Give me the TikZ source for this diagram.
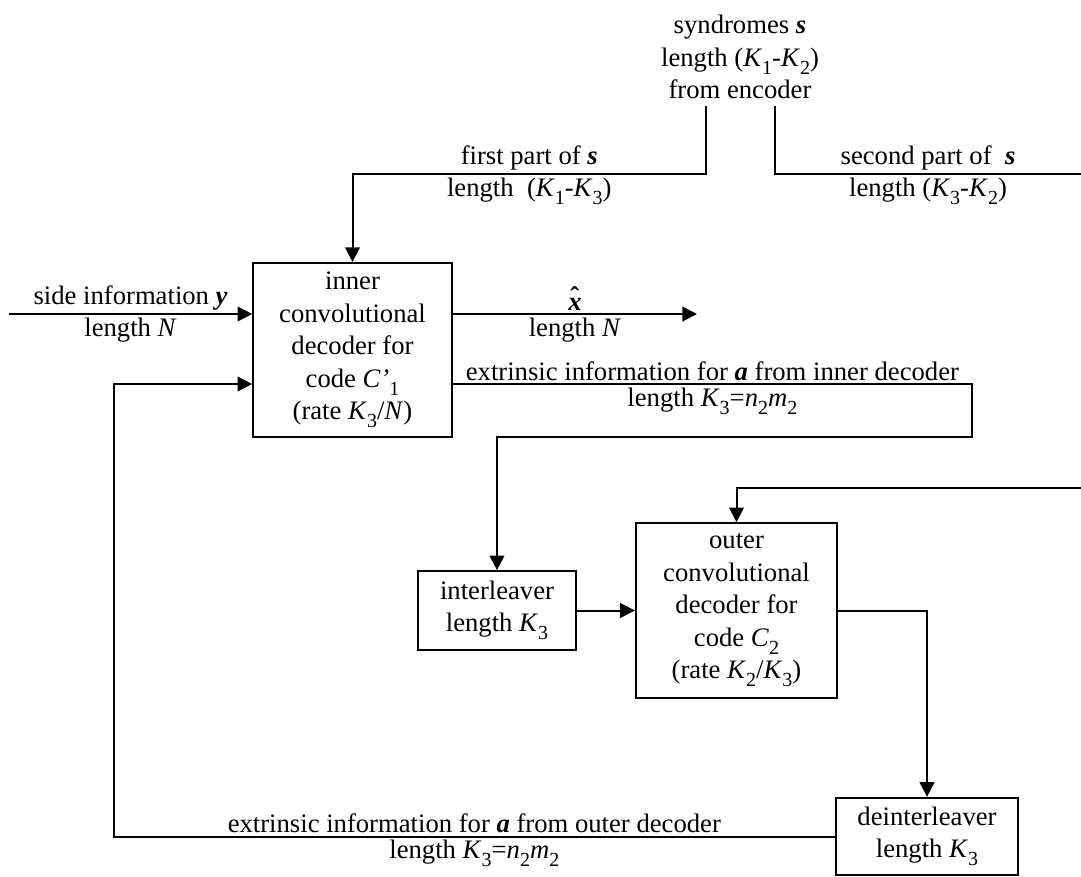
\documentclass[tikz,border=0pt]{standalone}
\usepackage{fontspec}
\setmainfont{Liberation Serif}
\usetikzlibrary{positioning,arrows.meta}
\newcommand{\bv}[1]{\textbf{\textit{#1}}}
\newcommand{\ksub}[2]{\textit{#1}\raisebox{-0.3em}{\fontsize{15}{15}\selectfont #2}}
\newcommand{\xhat}{{\setbox0\hbox{\bv{x}}\rlap{\hbox to\wd0{\hss\raisebox{0.18em}{\bfseries\char"02C6}\hss}}\box0}}

\begin{document}
\begin{tikzpicture}[x=0.75pt, y=-0.75pt,
  font=\fontsize{20}{24.4}\selectfont,
  block/.style={draw, rectangle, line width=1.5pt, align=center, inner sep=0pt},
  arr/.style={-{Triangle[length=11pt,width=11pt]}, line width=1.5pt},
  wire/.style={line width=1.5pt},
  lbl/.style={inner sep=2pt, align=center},
]
  \useasboundingbox (0,0) rectangle (1081,876);

  % Blocks
  \node[block, minimum width=149pt, minimum height=130.5pt] (inner) at (352.5,350)
    {inner\\convolutional\\decoder for\\code \textit{C’}\raisebox{-0.3em}{\fontsize{15}{15}\selectfont 1}\\(rate \ksub{K}{3}/\textit{N})};
  \node[block, minimum width=151pt, minimum height=131pt] (outer) at (736.5,610.5)
    {outer\\convolutional\\decoder for\\code \ksub{C}{2}\\(rate \ksub{K}{2}/\ksub{K}{3})};
  \node[block, minimum width=118.5pt, minimum height=59pt] (interl) at (497,610.5)
    {interleaver\\length \ksub{K}{3}};
  \node[block, minimum width=137pt, minimum height=58pt] (deint) at (927,836.5)
    {deinterleaver\\length \ksub{K}{3}};

  % Syndromes from encoder
  \node[lbl] (synd) at (740,57) {syndromes \bv{s}\\length (\ksub{K}{1}-\ksub{K}{2})\\from encoder};
  \coordinate (synL) at (706,106);
  \coordinate (synR) at (775,106);
  \coordinate (kneeL) at (706,174);
  \coordinate (edgeA) at (1081,174);
  \coordinate (edgeB) at (1081,488);

  \draw[arr] (synL) -- (kneeL) -| node[pos=0.25, above, lbl] {first part of \bv{s}}
    node[pos=0.25, below, lbl] {length\enspace(\ksub{K}{1}-\ksub{K}{3})} (inner.north);
  \draw[wire] (synR) |- node[pos=0.75, above, lbl] {second part of\enspace\bv{s}}
    node[pos=0.75, below, lbl] {length (\ksub{K}{3}-\ksub{K}{2})} (edgeA);
  \draw[arr] (edgeB) -| (outer.north);

  % Side information and estimate
  \coordinate (yin) at (9,314);
  \coordinate (xout) at (697,314);
  \draw[arr] (yin) -- node[above, lbl] {side information \bv{y}}
    node[below, lbl] {length \textit{N}} (yin -| inner.west);
  \draw[arr] (xout -| inner.east) -- node[above, lbl] {\xhat}
    node[below, lbl] {length \textit{N}} (xout);

  % Inner -> interleaver -> outer -> deinterleaver
  \coordinate (ieR) at (972,384);
  \coordinate (ieD) at (972,437);
  \draw[arr] (ieR -| inner.east) -- node[above, lbl] {extrinsic information for \bv{a} from inner decoder}
    node[below, lbl] {length \ksub{K}{3}=\ksub{n}{2}\ksub{m}{2}} (ieR) -- (ieD) -| (interl.north);
  \draw[arr] (interl.east) -- (outer.west);
  \draw[arr] (outer.east) -| (deint.north);

  % Feedback to inner decoder
  \coordinate (fbL) at (114,836.5);
  \draw[arr] (deint.west) -- node[above, lbl] {extrinsic information for \bv{a} from outer decoder}
    node[below, lbl] {length \ksub{K}{3}=\ksub{n}{2}\ksub{m}{2}} (fbL) |- (inner.west |- ieR);
\end{tikzpicture}
\end{document}
